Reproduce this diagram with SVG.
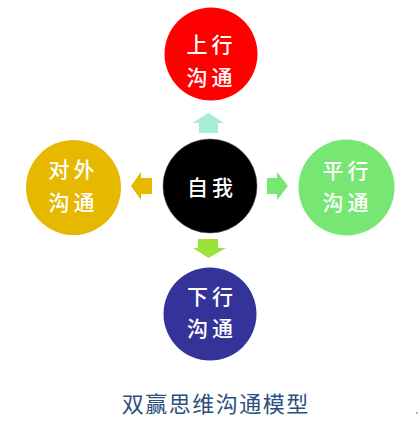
<svg xmlns="http://www.w3.org/2000/svg" width="419" height="439" viewBox="0 0 419 439">
<style>
.lbl{font-family:"Noto Sans CJK SC","Noto Sans CJK TC",sans-serif;font-size:21px;font-weight:500;fill:#fff;text-anchor:middle;dominant-baseline:central;letter-spacing:4px}
.title{font-family:"Noto Sans CJK SC","Noto Sans CJK TC",sans-serif;font-size:22px;font-weight:400;fill:#2b4f7e;text-anchor:middle;dominant-baseline:central;letter-spacing:1.5px}
</style>
<rect width="419" height="439" fill="#fff"/>
<g id="connectors">
<polygon points="208.5,113 224,123 218,123 218,133 199,133 199,123 192,123" fill="#a8ecd1"/>
<polygon points="131,186 141,172 141,178 152,178 152,194 141,194 141,200" fill="#e6b800"/>
<polygon points="288,186 277,172 277,178 267,178 267,194 277,194 277,200" fill="#77e672"/>
<polygon points="208.5,258 226,248 218,248 218,239 198,239 198,248 193,248" fill="#9be33a"/>
</g>
<g id="node-up">
<circle cx="211" cy="54" r="46.5" fill="#ff0000"/>
<text class="lbl" x="211.5" y="43">上行</text>
<text class="lbl" x="211.5" y="76">沟通</text>
</g>
<g id="node-self">
<circle cx="210" cy="186" r="47" fill="#000" stroke="#555" stroke-width="0.6"/>
<text class="lbl" x="212" y="186">自我</text>
</g>
<g id="node-left">
<circle cx="73.5" cy="187.5" r="47.5" fill="#e6b800"/>
<text class="lbl" x="73.5" y="168">对外</text>
<text class="lbl" x="73.5" y="201">沟通</text>
</g>
<g id="node-right">
<circle cx="346.5" cy="187.5" r="48" fill="#77e672"/>
<text class="lbl" x="347.5" y="169">平行</text>
<text class="lbl" x="347.5" y="201">沟通</text>
</g>
<g id="node-down">
<circle cx="210" cy="314" r="46.5" fill="#333399"/>
<text class="lbl" x="212" y="295">下行</text>
<text class="lbl" x="212" y="327">沟通</text>
</g>
<text class="title" x="215.7" y="402">双赢思维沟通模型</text>
<circle cx="417" cy="413" r="1" fill="#999"/>
</svg>
